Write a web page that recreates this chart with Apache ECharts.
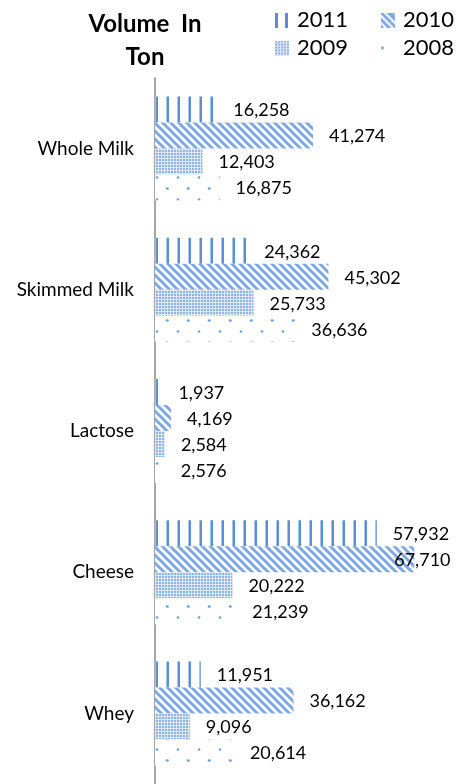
<!DOCTYPE html>
<html>
<head>
<meta charset="utf-8">
<script src="https://cdn.jsdelivr.net/npm/echarts@6/dist/echarts.min.js"></script>
<style>
html,body{margin:0;padding:0;background:#fff}
#chart{width:456px;height:784px}
</style>
</head>
<body>
<div id="chart"></div>
<script>
// data
var products = ['Whole Milk', 'Skimmed Milk', 'Lactose', 'Cheese', 'Whey'];
var years = ['2011', '2010', '2009', '2008'];
var vol2011 = [16258, 24362, 1937, 57932, 11951];
var vol2010 = [41274, 45302, 4169, 67710, 36162];
var vol2009 = [12403, 25733, 2584, 20222, 9096];
var vol2008 = [16875, 36636, 2576, 21239, 20614];
var volumes = [vol2011, vol2010, vol2009, vol2008];

var FONT = 'Lato';

// small canvas tiles used as fill patterns (Excel style hatching)
function tile(w, h, draw) {
	var c = document.createElement('canvas');
	c.width = w; c.height = h;
	var ctx = c.getContext('2d');
	ctx.fillStyle = '#fff';
	ctx.fillRect(0, 0, w, h);
	draw(ctx, w, h);
	return c;
}
function vLines(ctx, w, h) {
	ctx.fillStyle = '#a9c4ea';
	ctx.fillRect(1, 0, 1, h);
	ctx.fillStyle = '#5b8fd3';
	ctx.fillRect(2, 0, 2, h);
}
function diag(ctx, w, h) {
	ctx.strokeStyle = '#7fa8df';
	ctx.lineWidth = 3;
	for (var k = -2; k <= 2; k++) {
		ctx.beginPath();
		ctx.moveTo(k * w - 2, -2);
		ctx.lineTo(k * w + h + 2, h + 2);
		ctx.stroke();
	}
}
function dense(ctx, w, h) {
	ctx.fillStyle = '#dde8f7';
	ctx.fillRect(0, 0, w, h);
	ctx.fillStyle = '#8fb3e3';
	ctx.fillRect(0, 0, 2, 2);
}
function sparse(ctx, w, h) {
	ctx.fillStyle = '#6f9fdb';
	ctx.beginPath(); ctx.arc(10, 1.5, 1.3, 0, Math.PI * 2); ctx.fill();
	ctx.beginPath(); ctx.arc(20, 12.5, 1.3, 0, Math.PI * 2); ctx.fill();
	ctx.beginPath(); ctx.arc(-0.5, 12.5, 1.3, 0, Math.PI * 2); ctx.fill();
}
var fills = [
	{image: tile(11, 4, vLines), repeat: 'repeat'},
	{image: tile(8, 8, diag), repeat: 'repeat'},
	{image: tile(3, 3, dense), repeat: 'repeat'},
	{image: tile(21, 22, sparse), repeat: 'repeat'}
];

// legend icons
function icon(draw) {
	var c = document.createElement('canvas');
	c.width = 14; c.height = 15;
	var ctx = c.getContext('2d');
	draw(ctx);
	return 'image://' + c.toDataURL();
}
var icons = [
	icon(function (ctx) {
		ctx.fillStyle = '#5b8fd3';
		ctx.fillRect(0, 0, 3, 15);
		ctx.fillRect(10, 0, 3, 15);
	}),
	icon(function (ctx) {
		ctx.fillStyle = '#fff'; ctx.fillRect(0, 0, 14, 15);
		diag(ctx, 7, 15);
		ctx.strokeStyle = '#7fa8df'; ctx.lineWidth = 3;
		ctx.beginPath(); ctx.moveTo(7, -2); ctx.lineTo(24, 15); ctx.stroke();
	}),
	icon(function (ctx) {
		ctx.fillStyle = '#dde8f7'; ctx.fillRect(0, 0, 14, 15);
		ctx.fillStyle = '#8fb3e3';
		for (var x = 0; x < 14; x += 3)
			for (var y = 0; y < 15; y += 3) ctx.fillRect(x, y, 2, 2);
	}),
	icon(function (ctx) {
		ctx.fillStyle = '#6f9fdb';
		ctx.beginPath(); ctx.arc(1.5, 7.5, 1.4, 0, Math.PI * 2); ctx.fill();
	})
];

// label of the longest bar is pulled back inside the plot, like Excel does
var labelNudge = {'2010|Cheese': -36};

var series = years.map(function (y, i) {
	return {
		name: y,
		type: 'bar',
		barWidth: 26,
		barGap: '0%',
		itemStyle: {color: fills[i]},
		label: {
			show: true,
			position: 'right',
			distance: 16,
			offset: [0, 1],
			color: '#000',
			fontFamily: FONT,
			fontSize: 18,
			formatter: function (p) { return p.value.toLocaleString('en-US'); }
		},
		data: volumes[i].map(function (v, j) {
			var n = labelNudge[y + '|' + products[j]];
			return n ? {value: v, label: {offset: [n, 1]}} : v;
		})
	};
});

var legendText = {color: '#000', fontFamily: FONT, fontSize: 22, padding: [0, 0, 0, 3]};
var myChart = echarts.init(document.getElementById('chart'));
myChart.setOption({
	animation: false,
	title: {
		text: 'Volume  In\nTon',
		left: 140,
		top: 3,
		textAlign: 'center',
		textStyle: {color: '#000', fontFamily: FONT, fontSize: 24, fontWeight: 'bold', lineHeight: 33}
	},
	legend: [
		{
			orient: 'vertical', left: 270, top: 4, itemGap: 6,
			itemWidth: 14, itemHeight: 15,
			data: [{name: '2011', icon: icons[0]}, {name: '2009', icon: icons[2]}],
			textStyle: legendText
		},
		{
			orient: 'vertical', left: 376, top: 4, itemGap: 6,
			itemWidth: 14, itemHeight: 15,
			data: [{name: '2010', icon: icons[1]}, {name: '2008', icon: icons[3]}],
			textStyle: legendText
		}
	],
	grid: {left: 155, top: 78, height: 710, right: 33},
	xAxis: {type: 'value', min: 0, max: 70000, show: false},
	yAxis: {
		type: 'category',
		inverse: true,
		data: products,
		axisLine: {lineStyle: {color: '#a6a6a6', width: 2}},
		axisTick: {show: false},
		axisLabel: {color: '#000', fontFamily: FONT, fontSize: 19, margin: 21}
	},
	series: series
});
</script>
</body>
</html>
